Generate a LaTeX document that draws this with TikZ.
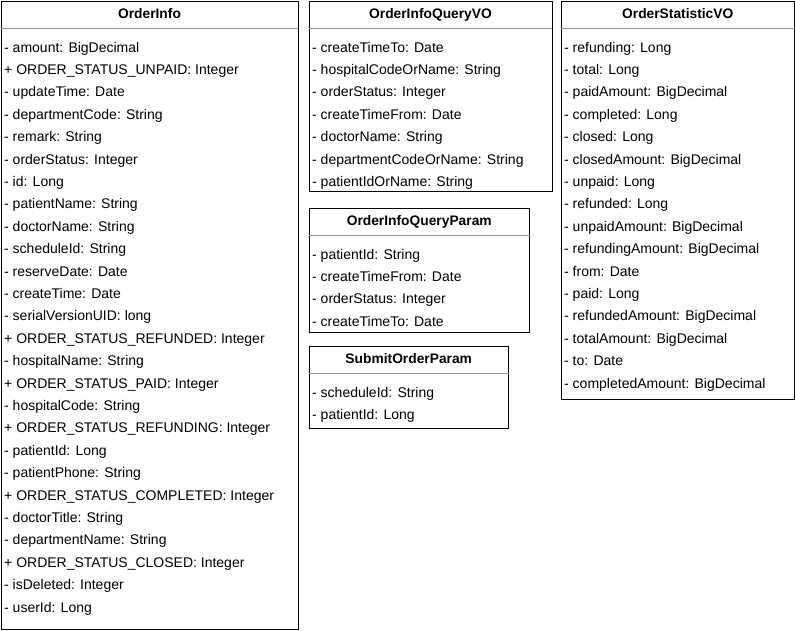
\documentclass[tikz,border=0pt]{standalone}
\usepackage{fontspec}
\setmainfont{Liberation Sans}
\usetikzlibrary{calc}

\tikzset{
  classbox/.style={draw=black, line width=1pt, fill=white, rectangle, inner sep=0pt, anchor=north west},
  classtitle/.style={font=\fontsize{13.8}{16}\selectfont\bfseries, inner sep=0pt, anchor=base},
  member/.style={font=\fontsize{14}{16}\selectfont, inner sep=0pt, anchor=base west},
  divider/.style={draw=black!40, line width=1pt}
}

% \classbox{name}{left}{top}{width}{height}{title}{members}
\newcommand{\classbox}[7]{%
  \node[classbox, minimum width=#4pt, minimum height=#5pt] (#1) at (#2,-#3) {};
  \node[classtitle] (#1-title) at ($(#1.north)+(0,-18)$) {#6};
  \draw[divider] ($(#1.north west)+(0.5,-28)$) -- ($(#1.north east)+(-0.5,-28)$);
  \foreach \m [count=\i] in {#7} {
    \node[member] (#1-\i) at ($(#1.north west)+(3.5,-51.5-22.4*\i+22.4)$) {\m};
  }%
}

\begin{document}
\begin{tikzpicture}[x=1pt, y=1pt]
\useasboundingbox (0,0) rectangle (795,-630);
\fill[white] (0,0) rectangle (795,-630);

\classbox{orderinfo}{0.5}{0.5}{297}{628}{OrderInfo}{%
- amount: BigDecimal,
+ ORDER\_STATUS\_UNPAID: Integer,
- updateTime: Date,
- departmentCode: String,
- remark: String,
- orderStatus: Integer,
- id: Long,
- patientName: String,
- doctorName: String,
- scheduleId: String,
- reserveDate: Date,
- createTime: Date,
- serialVersionUID: long,
+ ORDER\_STATUS\_REFUNDED: Integer,
- hospitalName: String,
+ ORDER\_STATUS\_PAID: Integer,
- hospitalCode: String,
+ ORDER\_STATUS\_REFUNDING: Integer,
- patientId: Long,
- patientPhone: String,
+ ORDER\_STATUS\_COMPLETED: Integer,
- doctorTitle: String,
- departmentName: String,
+ ORDER\_STATUS\_CLOSED: Integer,
- isDeleted: Integer,
- userId: Long}

\classbox{queryvo}{308.5}{0.5}{243}{190.5}{OrderInfoQueryVO}{%
- createTimeTo: Date,
- hospitalCodeOrName: String,
- orderStatus: Integer,
- createTimeFrom: Date,
- doctorName: String,
- departmentCodeOrName: String,
- patientIdOrName: String}

\classbox{statvo}{560.5}{0.5}{233.5}{398.5}{OrderStatisticVO}{%
- refunding: Long,
- total: Long,
- paidAmount: BigDecimal,
- completed: Long,
- closed: Long,
- closedAmount: BigDecimal,
- unpaid: Long,
- refunded: Long,
- unpaidAmount: BigDecimal,
- refundingAmount: BigDecimal,
- from: Date,
- paid: Long,
- refundedAmount: BigDecimal,
- totalAmount: BigDecimal,
- to: Date,
- completedAmount: BigDecimal}

\classbox{queryparam}{308.5}{207.5}{220.5}{124.5}{OrderInfoQueryParam}{%
- patientId: String,
- createTimeFrom: Date,
- orderStatus: Integer,
- createTimeTo: Date}

\classbox{submitparam}{308.5}{345.5}{199.5}{82.5}{SubmitOrderParam}{%
- scheduleId: String,
- patientId: Long}

\end{tikzpicture}
\end{document}
